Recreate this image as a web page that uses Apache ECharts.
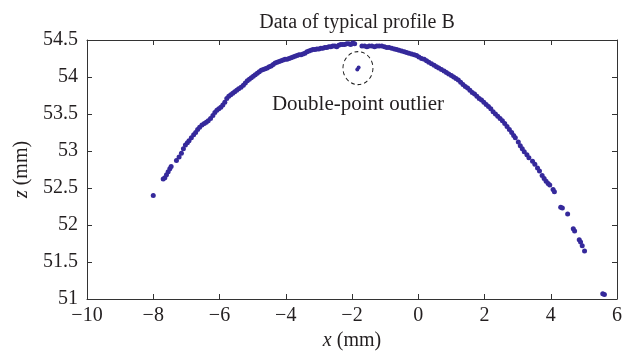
<!DOCTYPE html>
<html><head><meta charset="utf-8">
<script src="https://cdn.jsdelivr.net/npm/echarts@6/dist/echarts.min.js"></script>
<style>html,body{margin:0;padding:0;background:#fff}#c{width:634px;height:351px}</style>
</head><body><div id="c"></div>
<script>
var titleText = 'Data of typical profile B';
var xTicks = [-10, -8, -6, -4, -2, 0, 2, 4, 6];
var yTicks = [51, 51.5, 52, 52.5, 53, 53.5, 54, 54.5];
var profileX = [-8.00,-7.70,-7.65,-7.60,-7.55,-7.50,-7.46,-7.30,-7.22,-7.15,-7.09,-7.03,-6.97,-6.92,-6.85,-6.78,-6.72,-6.66,-6.60,-6.53,-6.46,-6.40,-6.34,-6.27,-6.20,-6.14,-6.08,-6.02,-5.96,-5.90,-5.84,-5.78,-5.72,-5.66,-5.60,-5.54,-5.48,-5.42,-5.35,-5.28,-5.22,-5.16,-5.10,-5.04,-4.98,-4.92,-4.86,-4.80,-4.74,-4.68,-4.62,-4.56,-4.50,-4.44,-4.38,-4.32,-4.26,-4.20,-4.14,-4.08,-4.02,-3.96,-3.90,-3.84,-3.78,-3.72,-3.66,-3.60,-3.54,-3.48,-3.42,-3.36,-3.30,-3.24,-3.18,-3.12,-3.06,-3.00,-2.94,-2.88,-2.82,-2.76,-2.70,-2.64,-2.58,-2.52,-2.46,-2.40,-2.34,-2.28,-2.22,-2.16,-2.10,-2.04,-1.98,-1.92,-1.70,-1.62,-1.55,-1.48,-1.40,-1.32,-1.25,-1.18,-1.10,-1.02,-0.95,-0.88,-0.80,-0.72,-0.65,-0.58,-0.50,-0.42,-0.35,-0.28,-0.20,-0.12,-0.05,0.02,0.10,0.18,0.25,0.32,0.40,0.48,0.55,0.62,0.70,0.78,0.85,0.92,1.00,1.07,1.14,1.21,1.28,1.35,1.42,1.49,1.56,1.63,1.70,1.77,1.84,1.91,1.98,2.05,2.12,2.19,2.26,2.33,2.40,2.47,2.54,2.61,2.68,2.75,2.82,2.88,2.93,3.02,3.08,3.14,3.20,3.28,3.34,3.45,3.52,3.60,3.66,3.74,3.80,3.86,3.92,3.97,4.07,4.11,4.30,4.35,4.51,4.68,4.72,4.86,4.90,4.95,5.02,5.57,5.62];
var profileZ = [52.40,52.62,52.64,52.68,52.72,52.76,52.79,52.87,52.92,52.97,53.03,53.08,53.11,53.14,53.18,53.22,53.25,53.29,53.32,53.35,53.37,53.39,53.41,53.44,53.48,53.52,53.55,53.57,53.59,53.62,53.66,53.71,53.74,53.76,53.78,53.80,53.82,53.84,53.86,53.89,53.92,53.95,53.97,53.99,54.01,54.03,54.05,54.07,54.09,54.10,54.11,54.12,54.14,54.15,54.17,54.19,54.20,54.21,54.22,54.23,54.24,54.24,54.25,54.26,54.27,54.28,54.29,54.30,54.30,54.31,54.32,54.34,54.35,54.36,54.37,54.37,54.38,54.38,54.39,54.39,54.40,54.40,54.41,54.41,54.42,54.42,54.41,54.43,54.44,54.44,54.44,54.45,54.45,54.44,54.46,54.45,54.42,54.42,54.41,54.42,54.42,54.41,54.42,54.42,54.42,54.41,54.40,54.40,54.39,54.38,54.37,54.36,54.35,54.34,54.33,54.32,54.31,54.30,54.29,54.27,54.25,54.24,54.22,54.20,54.18,54.16,54.14,54.12,54.10,54.08,54.06,54.04,54.02,54.00,53.98,53.96,53.93,53.90,53.87,53.85,53.82,53.79,53.77,53.74,53.71,53.69,53.66,53.63,53.60,53.57,53.53,53.50,53.47,53.44,53.41,53.37,53.33,53.29,53.25,53.21,53.18,53.12,53.07,53.03,52.99,52.95,52.91,52.86,52.82,52.77,52.73,52.67,52.63,52.59,52.56,52.54,52.48,52.45,52.24,52.23,52.15,51.95,51.92,51.80,51.77,51.72,51.65,51.07,51.06];
var outlierX = [-1.84, -1.80];
var outlierZ = [54.10, 54.13];
var circleCenter = [-1.82, 54.12];
var annotationText = 'Double-point outlier';

var FONT = 'Liberation Serif';
var TXT = '#231f20';
var COLOR = '#35299b';
function pairs(a, b) { return a.map(function (v, i) { return [v, b[i]]; }); }
function fmtNum(v) { return String(v).replace('-', '\u2212'); }

var chart = echarts.init(document.getElementById('c'), null, { renderer: 'canvas' });
var axisCommon = {
  axisLine: { show: true, onZero: false, lineStyle: { color: '#333', width: 1 } },
  axisTick: { show: true, inside: true, length: 5, lineStyle: { color: '#333' } },
  splitLine: { show: false }
};
var nameStyle = { fontFamily: FONT, fontSize: 20, color: TXT,
  rich: { i: { fontFamily: FONT, fontSize: 20, fontStyle: 'italic', color: TXT } } };
chart.setOption({
  animation: false,
  title: { text: titleText, left: 352, top: 8, textAlign: 'center',
    textStyle: { fontFamily: FONT, fontSize: 20, fontWeight: 'normal', color: TXT } },
  grid: { left: 87, right: 17, top: 40, bottom: 52, containLabel: false, outerBoundsMode: 'none' },
  xAxis: [
    Object.assign({ type: 'value', min: xTicks[0], max: xTicks[xTicks.length - 1], interval: 2, position: 'bottom',
      axisLabel: { fontFamily: FONT, fontSize: 20, color: TXT, margin: 7, formatter: fmtNum },
      name: '{i|x} (mm)', nameLocation: 'middle', nameGap: 31, nameTextStyle: nameStyle
    }, axisCommon),
    Object.assign({ type: 'value', min: xTicks[0], max: xTicks[xTicks.length - 1], interval: 2, position: 'top',
      axisLabel: { show: false } }, axisCommon)
  ],
  yAxis: [
    Object.assign({ type: 'value', min: yTicks[0], max: yTicks[yTicks.length - 1], interval: 0.5, position: 'left',
      axisLabel: { fontFamily: FONT, fontSize: 20, color: TXT, margin: 9 },
      name: '{i|z} (mm)', nameLocation: 'middle', nameGap: 55, nameRotate: 90, nameTextStyle: nameStyle
    }, axisCommon),
    Object.assign({ type: 'value', min: yTicks[0], max: yTicks[yTicks.length - 1], interval: 0.5, position: 'right',
      axisLabel: { show: false } }, axisCommon)
  ],
  series: [
    { type: 'scatter', data: pairs(profileX, profileZ), symbolSize: 5, itemStyle: { color: COLOR, opacity: 1 }, silent: true },
    { type: 'scatter', data: pairs(outlierX, outlierZ), symbolSize: 4, itemStyle: { color: COLOR, opacity: 1 }, silent: true },
    { type: 'scatter', data: [circleCenter], symbol: 'circle', symbolSize: [30, 33], silent: true,
      itemStyle: { color: 'rgba(0,0,0,0)', borderColor: '#222', borderWidth: 1, borderType: [4, 3], opacity: 1 },
      label: { show: true, position: 'bottom', distance: 9, formatter: annotationText,
        fontFamily: FONT, fontSize: 21, color: TXT } }
  ]
});
</script></body></html>
